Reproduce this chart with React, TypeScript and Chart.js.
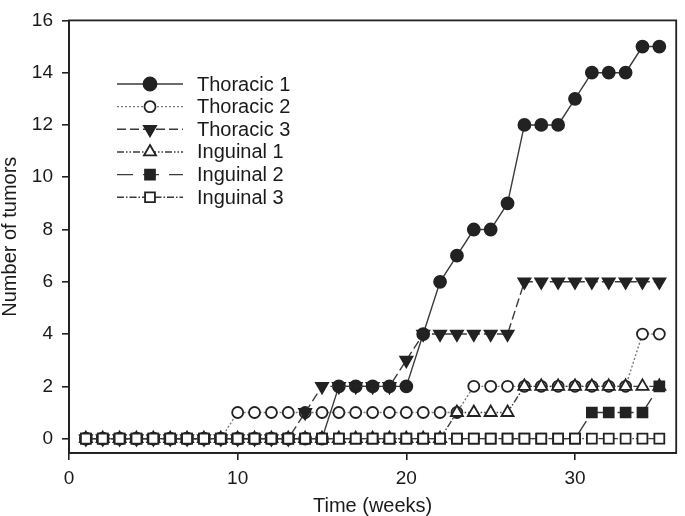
import { useEffect, useRef } from "react";
import { Chart, registerables } from "chart.js";
import { drawPoint } from "chart.js/helpers";

Chart.register(...registerables);

const weeks = [1, 2, 3, 4, 5, 6, 7, 8, 9, 10, 11, 12, 13, 14, 15, 16, 17, 18, 19, 20, 21, 22, 23, 24, 25, 26, 27, 28, 29, 30, 31, 32, 33, 34, 35];
const seriesNames = ["Thoracic 1", "Thoracic 2", "Thoracic 3", "Inguinal 1", "Inguinal 2", "Inguinal 3"];
const thoracic1 = [0, 0, 0, 0, 0, 0, 0, 0, 0, 0, 0, 0, 0, 0, 0, 2, 2, 2, 2, 2, 4, 6, 7, 8, 8, 9, 12, 12, 12, 13, 14, 14, 14, 15, 15];
const thoracic2 = [0, 0, 0, 0, 0, 0, 0, 0, 0, 1, 1, 1, 1, 1, 1, 1, 1, 1, 1, 1, 1, 1, 1, 2, 2, 2, 2, 2, 2, 2, 2, 2, 2, 4, 4];
const thoracic3 = [0, 0, 0, 0, 0, 0, 0, 0, 0, 0, 0, 0, 0, 1, 2, 2, 2, 2, 2, 3, 4, 4, 4, 4, 4, 4, 6, 6, 6, 6, 6, 6, 6, 6, 6];
const inguinal1 = [0, 0, 0, 0, 0, 0, 0, 0, 0, 0, 0, 0, 0, 0, 0, 0, 0, 0, 0, 0, 0, 0, 1, 1, 1, 1, 2, 2, 2, 2, 2, 2, 2, 2, 2];
const inguinal2 = [0, 0, 0, 0, 0, 0, 0, 0, 0, 0, 0, 0, 0, 0, 0, 0, 0, 0, 0, 0, 0, 0, 0, 0, 0, 0, 0, 0, 0, 0, 1, 1, 1, 1, 2];
const inguinal3 = [0, 0, 0, 0, 0, 0, 0, 0, 0, 0, 0, 0, 0, 0, 0, 0, 0, 0, 0, 0, 0, 0, 0, 0, 0, 0, 0, 0, 0, 0, 0, 0, 0, 0, 0];
const xTicks = [0, 10, 20, 30];
const yTicks = [0, 2, 4, 6, 8, 10, 12, 14, 16];
const xTitle = "Time (weeks)";
const yTitle = "Number of tumors";

const FONT = "'Liberation Sans', Arial, Helvetica, sans-serif";
const INK = "#222222";
const LINE = "#3a3a3a";

type Style = {
  dash: number[];
  lineColor: string;
  pointStyle: string;
  rotation: number;
  radius: number;
  fill: string;
  order: number;
};

const styles: Style[] = [
  { dash: [], lineColor: LINE, pointStyle: "circle", rotation: 0, radius: 6, fill: INK, order: 6 },
  { dash: [2, 2], lineColor: "#7a7a7a", pointStyle: "circle", rotation: 0, radius: 5.5, fill: "#ffffff", order: 5 },
  { dash: [9, 4], lineColor: LINE, pointStyle: "triangle", rotation: 180, radius: 7, fill: INK, order: 4 },
  { dash: [7, 2, 1.5, 2, 1.5, 2], lineColor: LINE, pointStyle: "triangle", rotation: 0, radius: 7, fill: "#ffffff", order: 3 },
  { dash: [16, 10], lineColor: LINE, pointStyle: "rect", rotation: 0, radius: 7, fill: INK, order: 2 },
  { dash: [7, 2, 1.5, 2], lineColor: LINE, pointStyle: "rect", rotation: 0, radius: 7, fill: "#ffffff", order: 1 },
];

const values = [thoracic1, thoracic2, thoracic3, inguinal1, inguinal2, inguinal3];

const boxPlugin = {
  id: "boxPlugin",
  afterDraw(chart: any) {
    const { ctx, chartArea } = chart;
    ctx.save();
    ctx.strokeStyle = INK;
    ctx.lineWidth = 1.8;
    ctx.strokeRect(chartArea.left, chartArea.top, chartArea.right - chartArea.left, chartArea.bottom - chartArea.top);
    ctx.restore();
  },
};

const legendPlugin = {
  id: "inlineLegend",
  afterDraw(chart: any) {
    const ctx = chart.ctx;
    const x0 = 117;
    const x1 = 183;
    const xm = 150;
    const xt = 197;
    const y0 = 84;
    const dy = 22.65;
    chart.data.datasets.forEach((ds: any, i: number) => {
      const y = y0 + i * dy;
      const st = styles[i];
      ctx.save();
      ctx.strokeStyle = st.lineColor;
      ctx.lineWidth = 1.4;
      ctx.setLineDash(st.dash);
      ctx.beginPath();
      ctx.moveTo(x0, y);
      ctx.lineTo(x1, y);
      ctx.stroke();
      ctx.setLineDash([]);
      ctx.fillStyle = st.fill;
      ctx.strokeStyle = INK;
      ctx.lineWidth = 1.8;
      drawPoint(ctx, { pointStyle: st.pointStyle, rotation: st.rotation, radius: st.radius + (i === 0 ? 0.5 : 0), borderWidth: 1.8 } as any, xm, y);
      ctx.fillStyle = "#1a1a1a";
      ctx.font = `20px ${FONT}`;
      ctx.textAlign = "left";
      ctx.textBaseline = "middle";
      ctx.fillText(ds.label, xt, y + 1);
      ctx.restore();
    });
  },
};

export default function App() {
  const ref = useRef<HTMLCanvasElement | null>(null);

  useEffect(() => {
    document.body.style.margin = "0";
    const canvas = ref.current;
    if (!canvas) return;
    const datasets = seriesNames.map((name, i) => {
      const st = styles[i];
      return {
        label: name,
        data: weeks.map((w, j) => ({ x: w, y: values[i][j] })),
        borderColor: st.lineColor,
        borderWidth: 1.4,
        borderDash: st.dash,
        tension: 0,
        fill: false,
        pointStyle: st.pointStyle,
        rotation: st.rotation,
        pointRadius: st.radius,
        pointBackgroundColor: st.fill,
        pointBorderColor: INK,
        pointBorderWidth: 1.8,
        order: st.order,
      };
    });

    const chart = new Chart(canvas, {
      type: "line",
      data: { datasets } as any,
      options: {
        animation: false,
        responsive: false,
        maintainAspectRatio: false,
        layout: { padding: { top: 10, right: 1, left: 0, bottom: 0 } },
        plugins: {
          legend: { display: false },
          tooltip: { enabled: false },
        },
        elements: { point: { hoverRadius: 6 } },
        scales: {
          x: {
            type: "linear",
            position: "bottom",
            min: 0,
            max: 36,
            afterBuildTicks: (scale: any) => {
              scale.ticks = xTicks.map((v) => ({ value: v }));
            },
            afterFit: (scale: any) => {
              scale.height = 63;
            },
            grid: { display: true, drawOnChartArea: false, drawTicks: true, tickLength: 7, color: INK, lineWidth: 1.6 },
            border: { display: true, color: INK, width: 1.8 },
            ticks: { color: "#1a1a1a", font: { family: FONT, size: 19 }, padding: 7, maxRotation: 0 },
            title: { display: true, text: xTitle, color: "#1a1a1a", font: { family: FONT, size: 20, lineHeight: 1 }, padding: 0 },
          },
          y: {
            type: "linear",
            position: "left",
            min: -0.55,
            max: 16,
            afterBuildTicks: (scale: any) => {
              scale.ticks = yTicks.map((v) => ({ value: v }));
            },
            afterFit: (scale: any) => {
              scale.width = 69;
            },
            grid: { display: true, drawOnChartArea: false, drawTicks: true, tickLength: 7, color: INK, lineWidth: 1.6 },
            border: { display: true, color: INK, width: 1.8 },
            ticks: { color: "#1a1a1a", font: { family: FONT, size: 19 }, padding: 9 },
            title: { display: true, text: yTitle, color: "#1a1a1a", font: { family: FONT, size: 20, lineHeight: 1 }, padding: 0 },
          },
        },
      } as any,
      plugins: [boxPlugin, legendPlugin],
    });
    return () => chart.destroy();
  }, []);

  return (
    <div style={{ position: "absolute", left: 0, top: 0, width: 685, height: 516, background: "#ffffff" }}>
      <canvas ref={ref} width={685} height={516} style={{ width: 685, height: 516, display: "block" }} />
    </div>
  );
}
